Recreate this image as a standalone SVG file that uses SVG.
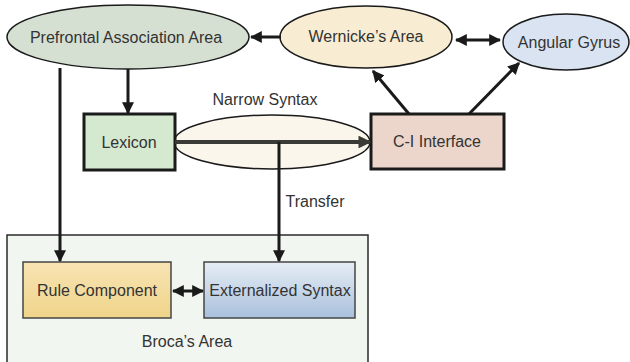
<svg xmlns="http://www.w3.org/2000/svg" width="630" height="362" viewBox="0 0 630 362">
<style>
text{font-family:"Liberation Sans Narrow","Liberation Sans",sans-serif;font-size:16px;fill:#333;text-anchor:middle;dominant-baseline:central}
.node{stroke:#1a1a1a;stroke-width:1.5}
.box{stroke:#1a1a1a;stroke-width:3}
.c{stroke:#1a1a1a;stroke-width:3;fill:none}
</style>
<defs>
<marker id="ah" viewBox="0 0 10 10" refX="9" refY="5" markerWidth="4" markerHeight="4" orient="auto-start-reverse" markerUnits="strokeWidth"><path d="M0,0 L10,5 L0,10 z" fill="#1a1a1a"/></marker>
<marker id="ah2" viewBox="0 0 10 10" refX="9" refY="5" markerWidth="3.2" markerHeight="3.2" orient="auto" markerUnits="strokeWidth"><path d="M0,0 L10,5 L0,10 z" fill="#3a3a36"/></marker>
<linearGradient id="gy" x1="0" y1="0" x2="0" y2="1"><stop offset="0" stop-color="#f8e4b4"/><stop offset="1" stop-color="#efd489"/></linearGradient>
<linearGradient id="gb" x1="0" y1="0" x2="0" y2="1"><stop offset="0" stop-color="#e6edf5"/><stop offset="1" stop-color="#a9c0dc"/></linearGradient>
</defs>
<rect width="630" height="362" fill="#fff"/>
<g id="broca">
<rect x="7" y="235" width="361" height="132" fill="#f2f6f0" stroke="#2a2a2a" stroke-width="1.5"/>
<text x="187" y="341">Broca’s Area</text>
</g>
<g id="prefrontal">
<ellipse cx="128" cy="37" rx="121" ry="32" fill="#d5e0d3" class="node"/>
<text x="126" y="37">Prefrontal Association Area</text>
</g>
<g id="wernicke">
<ellipse cx="366" cy="37" rx="86" ry="31" fill="#f8edd2" class="node"/>
<text x="366" y="36">Wernicke’s Area</text>
</g>
<g id="angular">
<ellipse cx="566" cy="42" rx="63" ry="28" fill="#dae3f1" class="node"/>
<text x="569" y="42">Angular Gyrus</text>
</g>
<g id="narrow">
<ellipse cx="272" cy="142" rx="98" ry="27" fill="#fbf6ec" class="node"/>
<text x="265" y="99">Narrow Syntax</text>
</g>
<g id="lexicon">
<rect x="84" y="114" width="91" height="56" fill="#d5e9d0" class="box"/>
<text x="129" y="142">Lexicon</text>
</g>
<g id="ci">
<rect x="371" y="114" width="133" height="55" fill="#ecd5ca" class="box"/>
<text x="437" y="141">C-I Interface</text>
</g>
<g id="rule">
<rect x="23" y="262" width="148" height="56" fill="url(#gy)" stroke="#444" stroke-width="1.5"/>
<text x="97" y="290">Rule Component</text>
</g>
<g id="externalized">
<rect x="204" y="262" width="151" height="56" fill="url(#gb)" stroke="#444" stroke-width="1.5"/>
<text x="280" y="290">Externalized Syntax</text>
</g>
<text x="315" y="201">Transfer</text>
<g id="connectors">
<line x1="281" y1="37" x2="251" y2="37" class="c" marker-end="url(#ah)"/>
<line x1="456" y1="40" x2="500" y2="40" class="c" marker-start="url(#ah)" marker-end="url(#ah)"/>
<line x1="409" y1="114" x2="373" y2="71" class="c" marker-end="url(#ah)"/>
<line x1="469" y1="114" x2="519" y2="63" class="c" marker-end="url(#ah)"/>
<line x1="128" y1="69" x2="128" y2="113" class="c" marker-end="url(#ah)"/>
<line x1="60" y1="68" x2="60" y2="261" class="c" marker-end="url(#ah)"/>
<line x1="175" y1="142" x2="370" y2="142" stroke="#3a3a36" stroke-width="4" marker-end="url(#ah2)"/>
<line x1="279" y1="142" x2="279" y2="261" class="c" marker-end="url(#ah)"/>
<line x1="173" y1="291" x2="203" y2="291" class="c" marker-start="url(#ah)" marker-end="url(#ah)"/>
</g>
</svg>
